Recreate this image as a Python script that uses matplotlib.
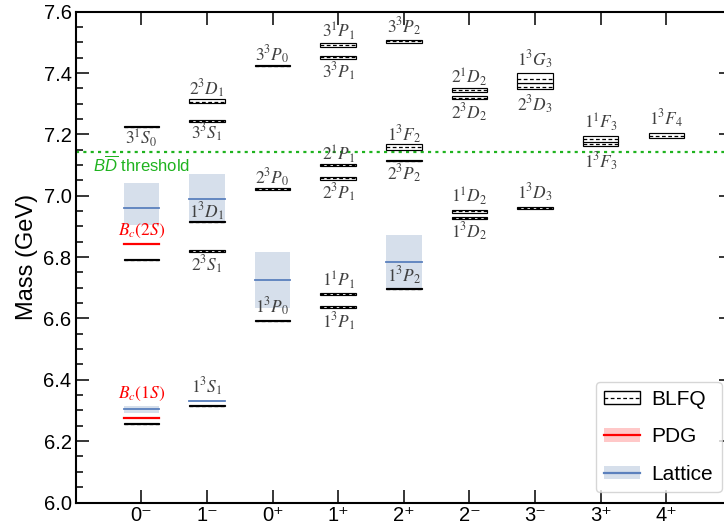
import matplotlib
matplotlib.use("Agg")
import matplotlib.pyplot as plt
from matplotlib.patches import Rectangle
from matplotlib.lines import Line2D
from matplotlib.legend_handler import HandlerTuple
from matplotlib.ticker import MultipleLocator

plt.rcParams['font.family'] = ['Liberation Sans', 'DejaVu Sans']
plt.rcParams['mathtext.fontset'] = 'stix'
plt.rcParams['mathtext.rm'] = 'Liberation Sans'
plt.rcParams['mathtext.it'] = 'Liberation Sans:italic'
plt.rcParams['mathtext.bf'] = 'Liberation Sans:bold'

# ---------------- data ----------------
categories = ["0⁻", "1⁻", "0⁺", "1⁺", "2⁺", "2⁻", "3⁻", "3⁺", "4⁺"]

# BLFQ states: category index, central mass, lower edge, upper edge (GeV)
blfq_cat = [0, 0, 0,
            1, 1, 1, 1, 1,
            2, 2, 2,
            3, 3, 3, 3, 3, 3,
            4, 4, 4, 4,
            5, 5, 5, 5,
            6, 6, 6,
            7, 7,
            8]
blfq_mass = [6.257, 6.791, 7.225,
             6.315, 6.820, 6.916, 7.244, 7.307,
             6.593, 7.022, 7.424,
             6.636, 6.680, 7.057, 7.100, 7.452, 7.491,
             6.697, 7.114, 7.160, 7.503,
             6.928, 6.950, 7.320, 7.344,
             6.961, 7.356, 7.381,
             7.170, 7.186,
             7.196]
blfq_lo = [6.255, 6.789, 7.223,
           6.313, 6.818, 6.913, 7.242, 7.301,
           6.591, 7.020, 7.422,
           6.633, 6.678, 7.052, 7.098, 7.446, 7.484,
           6.695, 7.112, 7.150, 7.498,
           6.924, 6.945, 7.314, 7.337,
           6.958, 7.347, 7.366,
           7.162, 7.176,
           7.187]
blfq_hi = [6.259, 6.793, 7.228,
           6.317, 6.823, 6.919, 7.247, 7.314,
           6.595, 7.024, 7.426,
           6.639, 6.682, 7.061, 7.102, 7.457, 7.497,
           6.699, 7.116, 7.169, 7.507,
           6.932, 6.955, 7.325, 7.351,
           6.964, 7.366, 7.399,
           7.178, 7.195,
           7.204]

# state labels: text, category index, vertical position of label (GeV)
label_text = [r"$3^1S_0$",
              r"$1^3S_1$", r"$2^3S_1$", r"$1^3D_1$", r"$3^3S_1$", r"$2^3D_1$",
              r"$1^3P_0$", r"$2^3P_0$", r"$3^3P_0$",
              r"$1^3P_1$", r"$1^1P_1$", r"$2^3P_1$", r"$2^1P_1$", r"$3^3P_1$", r"$3^1P_1$",
              r"$1^3P_2$", r"$2^3P_2$", r"$1^3F_2$", r"$3^3P_2$",
              r"$1^3D_2$", r"$1^1D_2$", r"$2^3D_2$", r"$2^1D_2$",
              r"$1^3D_3$", r"$2^3D_3$", r"$1^3G_3$",
              r"$1^3F_3$", r"$1^1F_3$",
              r"$1^3F_4$"]
label_cat = [0,
             1, 1, 1, 1, 1,
             2, 2, 2,
             3, 3, 3, 3, 3, 3,
             4, 4, 4, 4,
             5, 5, 5, 5,
             6, 6, 6,
             7, 7,
             8]
label_y = [7.187,
           6.378, 6.774, 6.948, 7.204, 7.350,
           6.638, 7.057, 7.459,
           6.590, 6.725, 7.010, 7.136, 7.404, 7.535,
           6.739, 7.073, 7.198, 7.551,
           6.881, 6.997, 7.269, 7.388,
           7.010, 7.296, 7.443,
           7.111, 7.239,
           7.252]

# PDG: category, mass, uncertainty, label, label position
pdg_cat = [0, 0]
pdg_mass = [6.2745, 6.842]
pdg_err = [0.0008, 0.004]
pdg_label = [r"$B_c(1S)$", r"$B_c(2S)$"]
pdg_label_y = [6.353, 6.885]

# Lattice: category, central, lower, upper
lat_cat = [0, 0, 1, 1, 2, 4]
lat_mass = [6.304, 6.960, 6.330, 6.990, 6.726, 6.783]
lat_lo = [6.292, 6.905, 6.327, 6.910, 6.635, 6.693]
lat_hi = [6.315, 7.043, 6.333, 7.071, 6.816, 6.872]

threshold = 7.144

# ---------------- plot ----------------
W, H = 724, 525
fig = plt.figure(figsize=(W / 100, H / 100), dpi=100)
x0, x1, ytop, ybot = 75.7, 732.0, 11.7, 502.5
ax = fig.add_axes([x0 / W, 1 - ybot / H, (x1 - x0) / W, (ybot - ytop) / H])

hw = 0.27
lat_face = '#d6dfeb'
lat_line = '#5b80bd'
pdg_face = '#ffc8c8'
pdg_line = '#ff0000'
txt_col = '#404040'

for c, m, lo, hi in zip(lat_cat, lat_mass, lat_lo, lat_hi):
    ax.add_patch(Rectangle((c - hw, lo), 2 * hw, hi - lo, facecolor=lat_face,
                           edgecolor='none', zorder=1))
    ax.plot([c - hw, c + hw], [m, m], color=lat_line, lw=1.3, zorder=2)

for c, m, e in zip(pdg_cat, pdg_mass, pdg_err):
    ax.add_patch(Rectangle((c - hw, m - e), 2 * hw, 2 * e, facecolor=pdg_face,
                           edgecolor='none', zorder=1))
    ax.plot([c - hw, c + hw], [m, m], color=pdg_line, lw=1.6, zorder=2)

for c, m, lo, hi in zip(blfq_cat, blfq_mass, blfq_lo, blfq_hi):
    ax.add_patch(Rectangle((c - hw, lo), 2 * hw, hi - lo, facecolor='white',
                           edgecolor='black', lw=0.85, zorder=3))
    ax.plot([c - hw, c + hw], [m, m], color='black', lw=0.9,
            ls=(0, (3, 2)), zorder=4)

for t, c, y in zip(label_text, label_cat, label_y):
    ax.text(c, y, t, ha='center', va='center', fontsize=12.5, color=txt_col,
            zorder=5)

for c, t, y in zip(pdg_cat, pdg_label, pdg_label_y):
    ax.text(c, y, t, ha='center', va='center', fontsize=12.5, color='#ff0000',
            zorder=5)

green = '#1fb31f'
ax.axhline(threshold, color=green, lw=1.6, ls=(0, (1.4, 1.9)), zorder=2)
ax.text(-0.74, 7.100, r"$B\overline{D}$ threshold", color=green, fontsize=12,
        ha='left', va='center', math_fontfamily='custom')

ax.set_xlim(-1, 9)
ax.set_ylim(6.0, 7.6)
ax.set_xticks(range(len(categories)))
ax.set_xticklabels(categories)
ax.yaxis.set_major_locator(MultipleLocator(0.2))
ax.yaxis.set_minor_locator(MultipleLocator(0.05))
ax.yaxis.set_major_formatter(plt.FuncFormatter(lambda v, p: f"{v:.1f}"))
ax.tick_params(axis='both', which='major', direction='in', length=9.5, width=1.1,
               labelsize=14.5, top=True, right=True)
ax.tick_params(axis='y', which='minor', direction='in', length=5, width=1.1,
               right=True)
ax.tick_params(axis='x', which='major', pad=2.5)
ax.tick_params(axis='y', which='major', pad=3)
for s in ax.spines.values():
    s.set_linewidth(1.5)
ax.set_ylabel("Mass (GeV)", fontsize=17, labelpad=4)

h_blfq = (Rectangle((0, 0), 1, 1, facecolor='white', edgecolor='black', lw=1.0),
          Line2D([], [], color='black', lw=0.9, ls=(0, (3, 2))))
h_pdg = (Rectangle((0, 0), 1, 1, facecolor=pdg_face, edgecolor='none'),
         Line2D([], [], color=pdg_line, lw=1.6))
h_lat = (Rectangle((0, 0), 1, 1, facecolor=lat_face, edgecolor='none'),
         Line2D([], [], color=lat_line, lw=1.6))
leg = ax.legend([h_blfq, h_pdg, h_lat], ["BLFQ", "PDG", "Lattice"],
                handler_map={tuple: HandlerTuple(ndivide=1, pad=0)},
                loc='lower right', fontsize=15, frameon=True, fancybox=True,
                edgecolor='#cccccc', handlelength=1.7, handleheight=0.6,
                labelspacing=0.88, borderaxespad=0.5, handletextpad=0.58,
                borderpad=0.4)
leg.get_frame().set_linewidth(1.0)

fig.savefig("out.png", dpi=100)
